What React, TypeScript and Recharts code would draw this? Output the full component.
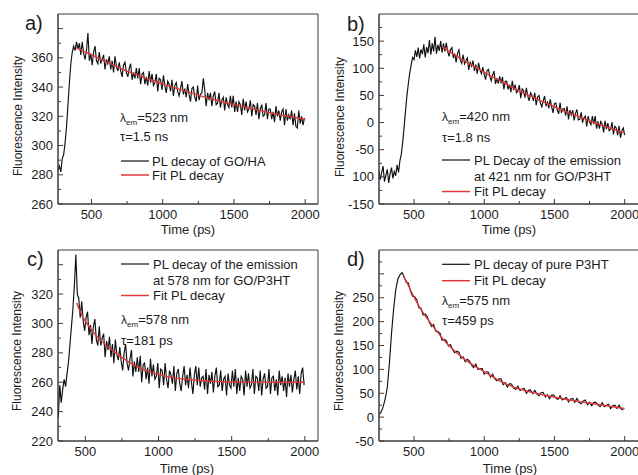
import { LineChart, Line, XAxis, YAxis, ReferenceArea } from "recharts";

const FONT = "Arial, 'Liberation Sans', sans-serif";
const INK = "#1c1c1c";
const AXIS = "#3c3c3c";
const FIT_RED = "#e0383c";

// each trace is sampled on a regular channel grid: first channel T0, spacing STEP (ps)
const A_T0 = 265;
const A_STEP = 10;
const A_SIGNAL = [
  283, 286, 282, 291, 294, 302, 313, 328, 343, 356, 364, 368, 365, 371, 366,
  370, 362, 371, 363, 359, 365, 377, 358, 363, 355,
  364, 368, 358, 356, 364, 356, 359, 362, 352, 359,
  356, 361, 352, 358, 350, 361, 354, 351, 357, 351,
  347, 355, 357, 350, 347, 353, 356, 345, 350, 346,
  353, 346, 353, 342, 349, 350, 342, 347, 341, 351,
  343, 349, 341, 343, 349, 337, 346, 345, 338, 348,
  341, 336, 344, 342, 337, 345, 334, 341, 343, 337,
  334, 339, 344, 335, 339, 333, 342, 335, 330, 339,
  340, 333, 330, 341, 331, 335, 336, 346, 338, 327,
  336, 331, 336, 327, 334, 337, 328, 329, 336, 326,
  331, 333, 324, 333, 328, 326, 334, 326, 334, 323,
  330, 323, 330, 328, 321, 332, 324, 330, 323, 325,
  331, 320, 328, 327, 321, 329, 318, 325, 328, 320,
  321, 329, 318, 325, 325, 318, 323, 316, 327, 320,
  324, 317, 323, 325, 314, 325, 317, 321, 318, 324,
  314, 322, 313, 312, 324, 315, 320, 314, 319,
];
const A_FIT_T = [390, 500, 600, 700, 800, 900, 1000, 1100, 1200, 1300, 1400, 1500, 1600, 1700, 1800, 1900, 2000];
const A_FIT = [367, 362, 357.5, 353, 349, 345.5, 342, 339, 336, 333, 330.5, 328, 326, 323.5, 321.5, 319.7, 318];

const B_T0 = 250;
const B_STEP = 10;
const B_SIGNAL = [
  -88, -105, -92, -80, -109, -97, -86, -111, -94, -83,
  -103, -90, -98, -78, -92, -70, -58, -35, -8, 22,
  50, 72, 92, 106, 120, 116, 133, 121, 138, 118,
  135, 126, 144, 120, 139, 128, 152, 125, 146, 131,
  158, 127, 143, 132, 150, 129,
  146, 131, 147, 131, 122, 134, 138, 119, 127, 111,
  128, 134, 115, 109, 125, 108, 114, 119, 97, 111,
  104, 114, 95, 107, 90, 110, 97, 90, 102, 89,
  79, 96, 98, 85, 77, 88, 95, 71, 82, 72,
  85, 72, 84, 61, 76, 76, 61, 70, 56, 77,
  60, 70, 55, 58, 69, 45, 62, 59, 46, 64,
  49, 40, 55, 50, 40, 55, 32, 47, 50, 36,
  29, 40, 49, 30, 39, 26, 43, 29, 18, 35,
  36, 23, 16, 37, 18, 25, 26, 13, 30, 6,
  23, 14, 23, 4, 17, 24, 5, 6, 19, 0,
  9, 12, -7, 12, 1, -4, 12, -3, 12, -11,
  2, -11, 2, -3, -18, 3, -12, -1, -15, -12,
  1, -22, -7, -10, -23, -6, -28, -15, -10, -23,
];
const B_FIT_T = [700, 800, 900, 1000, 1100, 1200, 1300, 1400, 1500, 1600, 1700, 1800, 1900, 2000];
const B_FIT = [140, 123, 107.5, 92.5, 78.5, 65, 52.5, 40.5, 29, 18.5, 8.5, -1.5, -10.5, -19];

const C_T0 = 315;
const C_STEP = 10;
const C_SIGNAL = [
  236, 258, 246, 255, 262, 257, 266, 274, 286, 298, 310, 326, 347, 320,
  317, 304, 315, 302, 295, 304, 308, 292, 299, 286,
  298, 303, 289, 285, 298, 285, 290, 293, 277, 288,
  282, 291, 277, 286, 273, 289, 279, 275, 284, 274,
  268, 280, 286, 273, 268, 276, 282, 264, 274, 267,
  277, 267, 278, 260, 272, 273, 262, 270, 259, 276,
  264, 272, 262, 264, 273, 256, 269, 268, 258, 273,
  262, 256, 268, 265, 259, 271, 254, 266, 269, 259,
  254, 264, 271, 258, 265, 256, 270, 260, 252, 265,
  271, 258, 270, 257, 263, 264, 255, 269, 252, 265,
  259, 267, 253, 264, 270, 257, 258, 268, 254, 262,
  264, 251, 266, 258, 256, 268, 257, 269, 252, 263,
  254, 264, 262, 251, 268, 257, 266, 256, 258, 269,
  252, 264, 263, 254, 268, 251, 262, 266, 256, 257,
  269, 252, 263, 264, 254, 262, 251, 268, 258, 264,
  254, 263, 250, 266, 257, 265, 253, 262, 268, 255,
  264, 252, 266, 270, 258,
];
const C_FIT_T = [440, 485, 540, 600, 650, 712, 770, 826, 880, 940, 1000, 1054, 1110, 1168, 1250, 1400, 1600, 2000];
const C_FIT = [314, 304, 296, 289, 284.5, 279.5, 275.5, 272, 269.5, 267, 265.3, 264, 263, 262.2, 261.3, 260.5, 260.1, 260];

const D_T0 = 250;
const D_STEP = 15;
const D_SIGNAL = [
  5, 10, 21, 38, 62, 112, 175, 226, 266, 289, 298, 303, 294,
  282, 281, 264, 253, 252, 246, 229, 228, 214, 216,
  210, 198, 190, 194, 180, 179, 176, 161, 163, 160,
  149, 152, 141, 135, 138, 136, 123, 126, 116, 121,
  118, 109, 104, 111, 100, 101, 102, 90, 95, 94,
  84, 90, 80, 76, 80, 80, 68, 72, 63, 70,
  69, 61, 58, 65, 56, 59, 60, 50, 56, 57,
  49, 56, 48, 45, 51, 52, 42, 47, 39, 46,
  46, 40, 37, 45, 36, 39, 41, 32, 38, 39,
  31, 39, 31, 28, 34, 36, 26, 31, 24, 31,
  31, 25, 22, 30, 22, 25, 27, 18, 24, 25,
  18, 25, 17, 15,
];
const D_FIT_T = [424, 450, 480, 510, 543, 600, 662, 720, 780, 840, 899, 960, 1018, 1080, 1136, 1200, 1300, 1400, 1500, 1600, 1700, 1800, 1900, 2000];
const D_FIT = [296, 282, 263, 246, 229, 204, 180, 159, 141, 126, 113, 102, 92, 81, 72, 64, 55, 48, 42, 36.5, 31.5, 27, 22.5, 18];

// tick marks
const X_MAJOR = [500, 1000, 1500, 2000];
const X_LABELS = ["500", "1000", "1500", "2000"];
const X_MINOR = [750, 1250, 1750];

const A_Y_MAJOR = [260, 280, 300, 320, 340, 360, 380];
const A_Y_LABELS = ["260", "280", "300", "320", "340", "360", ""];
const A_Y_MINOR = [270, 290, 310, 330, 350, 370];

const B_Y_MAJOR = [-150, -100, -50, 0, 50, 100, 150];
const B_Y_LABELS = ["-150", "100", "-50", "0", "50", "100", "150"];
const B_Y_MINOR = [-125, -75, -25, 25, 75, 125, 175];

const C_Y_MAJOR = [220, 240, 260, 280, 300, 320, 340];
const C_Y_LABELS = ["220", "240", "260", "280", "300", "320", ""];
const C_Y_MINOR = [230, 250, 270, 290, 310, 330];

const D_Y_MAJOR = [-50, 0, 50, 100, 150, 200, 250, 300];
const D_Y_LABELS = ["-50", "0", "50", "100", "150", "200", "250", ""];
const D_Y_MINOR = [-25, 25, 75, 125, 175, 225, 275, 325];

type Row = { t: number; v: number };
const gridRows = (t0: number, step: number, vals: number[]): Row[] => vals.map((v, i) => ({ t: t0 + i * step, v }));
const pairRows = (ts: number[], vals: number[]): Row[] => vals.map((v, i) => ({ t: ts[i], v }));

function tickMap(major: number[], labels: string[], minor: number[]) {
  const m = new Map<number, string | null>();
  major.forEach((v, i) => m.set(v, labels[i]));
  minor.forEach((v) => m.set(v, null));
  return m;
}

// Origin-style ticks: pointing into the plot, minor ones shorter
function XTick(props: any) {
  const { x, y, payload, marks } = props;
  const label = marks.get(payload.value);
  const len = label === null ? 3 : 5;
  return (
    <g>
      <line x1={x} y1={y} x2={x} y2={y - len} stroke={AXIS} />
      {label ? (
        <text x={x} y={y + 15} textAnchor="middle" fontSize={13} fill={INK} fontFamily={FONT}>
          {label}
        </text>
      ) : null}
    </g>
  );
}

function YTick(props: any) {
  const { x, y, payload, marks } = props;
  const label = marks.get(payload.value);
  const len = label === null ? 3 : 5;
  return (
    <g>
      <line x1={x} y1={y} x2={x + len} y2={y} stroke={AXIS} />
      {label ? (
        <text x={x - 5} y={y + 4.5} textAnchor="end" fontSize={13} fill={INK} fontFamily={FONT}>
          {label}
        </text>
      ) : null}
    </g>
  );
}

interface PanelProps {
  left: number;
  top: number;
  height: number;
  xDomain: [number, number];
  yDomain: [number, number];
  yMarks: Map<number, string | null>;
  signal: Row[];
  fit: Row[];
}

const xMarks = tickMap(X_MAJOR, X_LABELS, X_MINOR);

function Panel({ left, top, height, xDomain, yDomain, yMarks, signal, fit }: PanelProps) {
  const xs = [...xMarks.keys()].sort((a, b) => a - b);
  const ys = [...yMarks.keys()].sort((a, b) => a - b);
  return (
    <div style={{ position: "absolute", left, top }}>
      <LineChart width={330} height={height} margin={{ top: 14, right: 12, bottom: 0, left: 0 }}>
        <XAxis
          type="number"
          dataKey="t"
          domain={xDomain}
          allowDataOverflow
          ticks={xs}
          interval={0}
          tickSize={0}
          tickMargin={0}
          height={38}
          stroke={AXIS}
          tick={(p: any) => <XTick {...p} marks={xMarks} />}
        />
        <YAxis
          type="number"
          domain={yDomain}
          allowDataOverflow
          ticks={ys}
          interval={0}
          tickSize={0}
          tickMargin={0}
          width={58}
          stroke={AXIS}
          tick={(p: any) => <YTick {...p} marks={yMarks} />}
        />
        <ReferenceArea
          x1={xDomain[0]}
          x2={xDomain[1]}
          y1={yDomain[0]}
          y2={yDomain[1]}
          fill="none"
          stroke={AXIS}
          strokeWidth={1}
          ifOverflow="visible"
        />
        <Line data={signal} dataKey="v" type="linear" stroke="#111" strokeWidth={1.15} dot={false} isAnimationActive={false} />
        <Line data={fit} dataKey="v" type="monotone" stroke={FIT_RED} strokeWidth={1.4} dot={false} isAnimationActive={false} />
      </LineChart>
    </div>
  );
}

function Lambda({ x, y, text }: { x: number; y: number; text: string }) {
  return (
    <text x={x} y={y} fontSize={13} fill={INK} fontFamily={FONT}>
      <tspan fontSize={12}>λ</tspan>
      <tspan fontSize={8} dy={3}>em</tspan>
      <tspan dy={-3}>{text}</tspan>
    </text>
  );
}

function Note({ x, y, children, size = 13 }: { x: number; y: number; children: any; size?: number }) {
  return (
    <text x={x} y={y} fontSize={size} fill={INK} fontFamily={FONT}>
      {children}
    </text>
  );
}

function Key({ x, y, color }: { x: number; y: number; color: string }) {
  return <line x1={x} y1={y} x2={x + 28} y2={y} stroke={color} strokeWidth={color === FIT_RED ? 1.5 : 1.2} />;
}

function YTitle({ x, y }: { x: number; y: number }) {
  return (
    <text
      transform={`translate(${x},${y}) rotate(-90)`}
      textAnchor="middle"
      dominantBaseline="central"
      fontSize={12}
      fill={INK}
      fontFamily={FONT}
    >
      Fluorescence Intensity
    </text>
  );
}

function XTitle({ x, y }: { x: number; y: number }) {
  return (
    <text x={x} y={y} textAnchor="middle" fontSize={13} fill={INK} fontFamily={FONT}>
      Time (ps)
    </text>
  );
}

export default function App() {
  return (
    <div style={{ position: "absolute", left: 0, top: 0, width: 638, height: 475, overflow: "hidden", background: "#fff" }}>
      <Panel
        left={0}
        top={0}
        height={242}
        xDomain={[265, 2090]}
        yDomain={[260, 390]}
        yMarks={tickMap(A_Y_MAJOR, A_Y_LABELS, A_Y_MINOR)}
        signal={gridRows(A_T0, A_STEP, A_SIGNAL)}
        fit={pairRows(A_FIT_T, A_FIT)}
      />
      <Panel
        left={321}
        top={0}
        height={242}
        xDomain={[251, 2102]}
        yDomain={[-150, 200]}
        yMarks={tickMap(B_Y_MAJOR, B_Y_LABELS, B_Y_MINOR)}
        signal={gridRows(B_T0, B_STEP, B_SIGNAL)}
        fit={pairRows(B_FIT_T, B_FIT)}
      />
      <Panel
        left={0}
        top={236}
        height={243}
        xDomain={[313, 2090]}
        yDomain={[220, 350]}
        yMarks={tickMap(C_Y_MAJOR, C_Y_LABELS, C_Y_MINOR)}
        signal={gridRows(C_T0, C_STEP, C_SIGNAL)}
        fit={pairRows(C_FIT_T, C_FIT)}
      />
      <Panel
        left={321}
        top={236}
        height={243}
        xDomain={[251, 2102]}
        yDomain={[-50, 350]}
        yMarks={tickMap(D_Y_MAJOR, D_Y_LABELS, D_Y_MINOR)}
        signal={gridRows(D_T0, D_STEP, D_SIGNAL)}
        fit={pairRows(D_FIT_T, D_FIT)}
      />
      <svg width={638} height={475} style={{ position: "absolute", left: 0, top: 0, pointerEvents: "none" }}>
        <Note x={25} y={30} size={20}>a)</Note>
        <Note x={347} y={31} size={20}>b)</Note>
        <Note x={27} y={266} size={20}>c)</Note>
        <Note x={347} y={266} size={20}>d)</Note>

        <YTitle x={18} y={116} />
        <YTitle x={339.5} y={117} />
        <YTitle x={17} y={351} />
        <YTitle x={338.5} y={351} />

        <XTitle x={188} y={234} />
        <XTitle x={509} y={234} />
        <XTitle x={187} y={473} />
        <XTitle x={510} y={473} />

        {/* a */}
        <Lambda x={120} y={121.5} text="=523 nm" />
        <Note x={120} y={141}>τ=1.5 ns</Note>
        <Key x={121} y={161} color="#111" />
        <Note x={152} y={165.5}>PL decay of GO/HA</Note>
        <Key x={121} y={175} color={FIT_RED} />
        <Note x={152} y={179.5}>Fit PL decay</Note>

        {/* b */}
        <Lambda x={442} y={121} text="=420 nm" />
        <Note x={442} y={141.5}>τ=1.8 ns</Note>
        <Key x={442} y={160} color="#111" />
        <Note x={474} y={164.5}>PL Decay of the emission</Note>
        <Note x={474} y={180.5}>at 421 nm for GO/P3HT</Note>
        <Key x={442} y={191.5} color={FIT_RED} />
        <Note x={474} y={196}>Fit PL decay</Note>

        {/* c */}
        <Key x={121} y={264} color="#111" />
        <Note x={153} y={268.5}>PL decay of the emission</Note>
        <Note x={153} y={284.5}>at 578 nm for GO/P3HT</Note>
        <Key x={121} y={295.5} color={FIT_RED} />
        <Note x={153} y={300}>Fit PL decay</Note>
        <Lambda x={121} y={324} text="=578 nm" />
        <Note x={121} y={344.5}>τ=181 ps</Note>

        {/* d */}
        <Key x={442} y={264.3} color="#111" />
        <Note x={474} y={268.8}>PL decay of pure P3HT</Note>
        <Key x={442} y={280.7} color={FIT_RED} />
        <Note x={474} y={285.2}>Fit PL decay</Note>
        <Lambda x={442} y={304.5} text="=575 nm" />
        <Note x={442} y={324.5}>τ=459 ps</Note>
      </svg>
    </div>
  );
}
